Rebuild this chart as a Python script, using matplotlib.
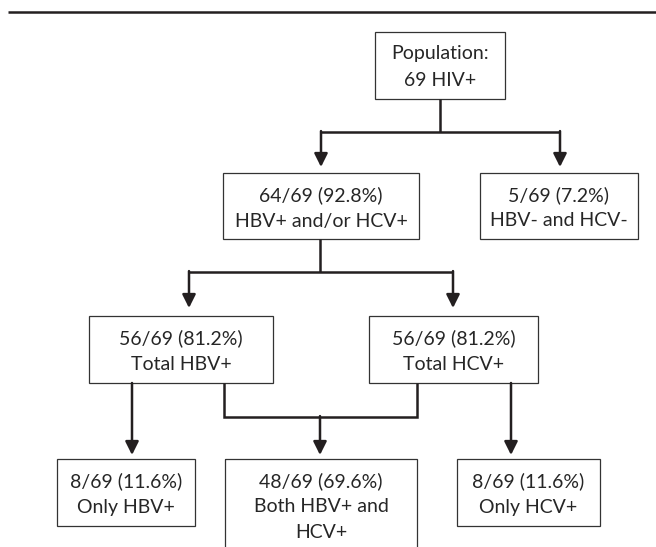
import matplotlib.pyplot as plt
from matplotlib.patches import Rectangle

plt.rcParams['font.family'] = ['Lato', 'DejaVu Sans']

# box texts, one list of lines per box
population = ["Population:", "69 HIV+"]
any_pos = ["64/69 (92.8%)", "HBV+ and/or HCV+"]
none_pos = ["5/69 (7.2%)", "HBV- and HCV-"]
total_hbv = ["56/69 (81.2%)", "Total HBV+"]
total_hcv = ["56/69 (81.2%)", "Total HCV+"]
only_hbv = ["8/69 (11.6%)", "Only HBV+"]
both = ["48/69 (69.6%)", "Both HBV+ and", "HCV+"]
only_hcv = ["8/69 (11.6%)", "Only HCV+"]

labels = [population, any_pos, none_pos, total_hbv, total_hcv, only_hbv, both, only_hcv]

# layout in pixels: (left, top, right, bottom)
boxes = [
    (375, 32, 505, 99),
    (223, 173, 419, 239),
    (480, 173, 638, 239),
    (89, 316, 273, 383),
    (369, 316, 538, 383),
    (57, 459, 195, 526),
    (225, 459, 417, 570),
    (457, 459, 600, 526),
]

line_col = "#231f20"
box_col = "#333333"
text_col = "#262626"

fig = plt.figure(figsize=(6.56, 5.47), dpi=100)
ax = fig.add_axes([0, 0, 1, 1])
ax.set_xlim(0, 656)
ax.set_ylim(547, 0)
ax.axis("off")

# top rule
ax.plot([8, 656], [12, 12], color=line_col, lw=1.8, solid_capstyle="butt")

for (x0, y0, x1, y1), lines in zip(boxes, labels):
    ax.add_patch(Rectangle((x0, y0), x1 - x0, y1 - y0, fill=False,
                           edgecolor=box_col, lw=0.9))
    cx = (x0 + x1) / 2
    for i, s in enumerate(lines):
        ax.text(cx, y0 + 22 + i * 26, s, ha="center", va="center",
                fontsize=14, color=text_col)


def seg(xs, ys):
    ax.plot(xs, ys, color=line_col, lw=1.8, solid_capstyle="butt",
            solid_joinstyle="miter")


def arrow(x, y0, y1):
    ax.annotate("", xy=(x, y1), xytext=(x, y0),
                arrowprops=dict(arrowstyle="-|>,head_length=0.8,head_width=0.4",
                                mutation_scale=10, color=line_col, lw=1.8,
                                shrinkA=0, shrinkB=0))


# level 1 -> 2
seg([440, 440], [99, 132])
seg([321, 560], [132, 132])
arrow(321, 131.1, 167)
arrow(560, 131.1, 167)

# level 2 -> 3
seg([320, 320], [239, 272])
seg([189, 453], [272, 272])
arrow(189, 271.1, 308)
arrow(453, 271.1, 308)

# level 3 -> 4
arrow(132, 383, 455)
seg([224, 224, 417, 417], [383, 417, 417, 383])
arrow(320, 416.1, 455)
arrow(511, 383, 455)

fig.savefig("out.png", dpi=100)
